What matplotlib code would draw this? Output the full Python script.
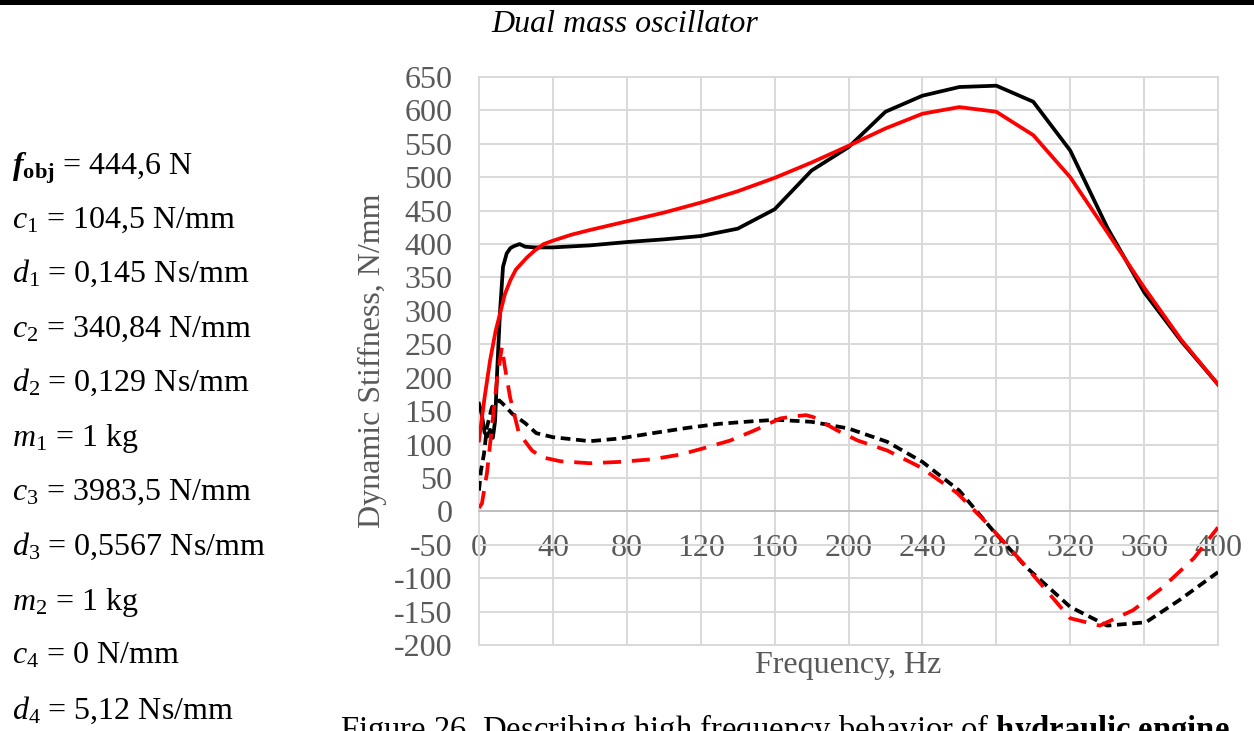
import matplotlib
matplotlib.use('Agg')
import matplotlib.pyplot as plt
from matplotlib.patches import Rectangle

plt.rcParams['font.family'] = ['Liberation Serif', 'DejaVu Serif']
plt.rcParams['mathtext.fontset'] = 'custom'
plt.rcParams['mathtext.rm'] = 'Liberation Serif'
plt.rcParams['mathtext.it'] = 'Liberation Serif:italic'
plt.rcParams['mathtext.bf'] = 'Liberation Serif:bold'
plt.rcParams['mathtext.bfit'] = 'Liberation Serif:bold:italic'

# ---------------- data ----------------
x_ticks = list(range(0, 401, 40))
y_ticks = list(range(-200, 651, 50))

black_solid_f = [0, 1.5, 3, 4.5, 6, 7.5, 8.7, 10, 11.4, 13, 15, 17, 19, 22, 25, 30, 40, 60, 80, 100, 120, 140,
                 160, 180, 200, 220, 240, 260, 280, 300, 320, 340, 360, 380, 400]
black_solid_v = [161, 145, 118, 112, 122, 110, 135, 220, 300, 366, 386, 394, 397, 400, 396, 395, 395, 398, 403, 407,
                 412, 423, 452, 510, 545, 598, 622, 635, 637, 613, 540, 425, 328, 255, 190]

red_solid_f = [0, 3, 6, 9, 11.4, 14, 17, 20, 26, 30, 35, 40, 50, 60, 80, 100, 120, 140, 160, 180, 200, 220, 240,
               260, 280, 300, 320, 340, 360, 380, 400]
red_solid_v = [106, 170, 226, 270, 296, 325, 346, 362, 380, 390, 400, 405, 414, 421, 434, 447, 462, 479, 499, 522,
               547, 573, 595, 605, 598, 563, 500, 418, 335, 257, 190]

black_dash_f = [0, 1, 2.7, 4.3, 7, 11, 14, 18, 25, 31, 40, 60, 76, 94, 113, 130, 149, 161, 180, 200, 221, 240,
                260, 278, 296, 320, 340, 361, 379, 400]
black_dash_v = [31, 60, 86, 126, 156, 166, 158, 146, 132, 117, 111, 105, 109, 117, 125, 131, 135, 137, 134, 124,
                104, 74, 31, -28, -83, -143, -171, -166, -133, -91]

red_dash_f = [0, 1.6, 4.3, 7, 9.7, 12.4, 14, 16.8, 21.6, 28.7, 34, 44, 60, 76, 94, 109, 121, 136, 149, 163, 170,
              177, 181, 194, 205, 221, 239, 259, 275, 293, 307, 320, 336, 354, 370, 387, 400]
red_dash_v = [5, 12, 57, 126, 196, 246, 216, 171, 117, 91, 81, 75, 72, 74, 78, 85, 94, 106, 121, 139, 142, 144,
              141, 121, 106, 91, 66, 27, -18, -73, -118, -160, -171, -148, -114, -70, -24]

params = [
    r'$\mathbfit{f}_{\mathbf{obj}}$ = 444,6 N',
    r'$\mathit{c}_{\mathrm{1}}$ = 104,5 N/mm',
    r'$\mathit{d}_{\mathrm{1}}$ = 0,145 Ns/mm',
    r'$\mathit{c}_{\mathrm{2}}$ = 340,84 N/mm',
    r'$\mathit{d}_{\mathrm{2}}$ = 0,129 Ns/mm',
    r'$\mathit{m}_{\mathrm{1}}$ = 1 kg',
    r'$\mathit{c}_{\mathrm{3}}$ = 3983,5 N/mm',
    r'$\mathit{d}_{\mathrm{3}}$ = 0,5567 Ns/mm',
    r'$\mathit{m}_{\mathrm{2}}$ = 1 kg',
    r'$\mathit{c}_{\mathrm{4}}$ = 0 N/mm',
    r'$\mathit{d}_{\mathrm{4}}$ = 5,12 Ns/mm',
]

# ---------------- figure ----------------
W, H = 1254, 731
fig = plt.figure(figsize=(W / 100, H / 100), dpi=100)
fig.patch.set_facecolor('white')

# top rule
fig.add_artist(Rectangle((0, 1 - 5 / H), 1, 5 / H, transform=fig.transFigure, color='black', lw=0))

L, R, T, B = 479, 1218, 77, 645
ax = fig.add_axes([L / W, 1 - B / H, (R - L) / W, (B - T) / H])

ax.plot(black_solid_f, black_solid_v, color='black', lw=2.7, solid_joinstyle='round', zorder=3)
ax.plot(red_solid_f, red_solid_v, color='#ff0000', lw=2.7, solid_joinstyle='round', zorder=4)
ax.plot(black_dash_f, black_dash_v, color='black', lw=2.7, dashes=(2.6, 1.5), zorder=3)
ax.plot(red_dash_f, red_dash_v, color='#ff0000', lw=2.7, dashes=(4.8, 2.9), zorder=4)

ax.set_xlim(0, 400)
ax.set_ylim(-200, 650)
ax.set_xticks(x_ticks)
ax.set_yticks(y_ticks)
ax.set_yticklabels([str(v) for v in y_ticks])
ax.grid(True, color='#d9d9d9', lw=1.4, zorder=0)
ax.set_axisbelow(True)
for s in ['left', 'right', 'top']:
    ax.spines[s].set_color('#d9d9d9')
    ax.spines[s].set_linewidth(1.4)
ax.spines['bottom'].set_position(('data', 0))
ax.spines['bottom'].set_color('#bfbfbf')
ax.spines['bottom'].set_linewidth(1.4)
ax.axhline(-200, color='#d9d9d9', lw=1.4, clip_on=False, zorder=0)
ax.tick_params(axis='both', length=0, labelsize=23, labelcolor='#595959')
ax.tick_params(axis='y', pad=19)
ax.tick_params(axis='x', pad=16)

fig.text(372 / W, 1 - 361 / H, 'Dynamic Stiffness, N/mm', rotation=90, ha='center', va='center',
         fontsize=23, color='#595959')
fig.text(848 / W, 1 - 665 / H, 'Frequency, Hz', ha='center', va='center', fontsize=23, color='#595959')

fig.text(625 / W, 1 - 25 / H, 'Dual mass oscillator', ha='center', va='center', fontsize=23, style='italic')

baselines = [174, 228, 282, 337, 391, 446, 500, 555, 610, 664, 719]
for s, yb in zip(params, baselines):
    fig.text(12 / W, 1 - yb / H, s, ha='left', va='baseline', fontsize=23, color='black')

fig.text(340 / W, 1 - 712 / H,
         r'Figure 26. Describing high frequency behavior of $\mathbf{hydraulic\ engine}$,',
         ha='left', va='top', fontsize=23.5, color='black')

fig.savefig('out.png', dpi=100)
